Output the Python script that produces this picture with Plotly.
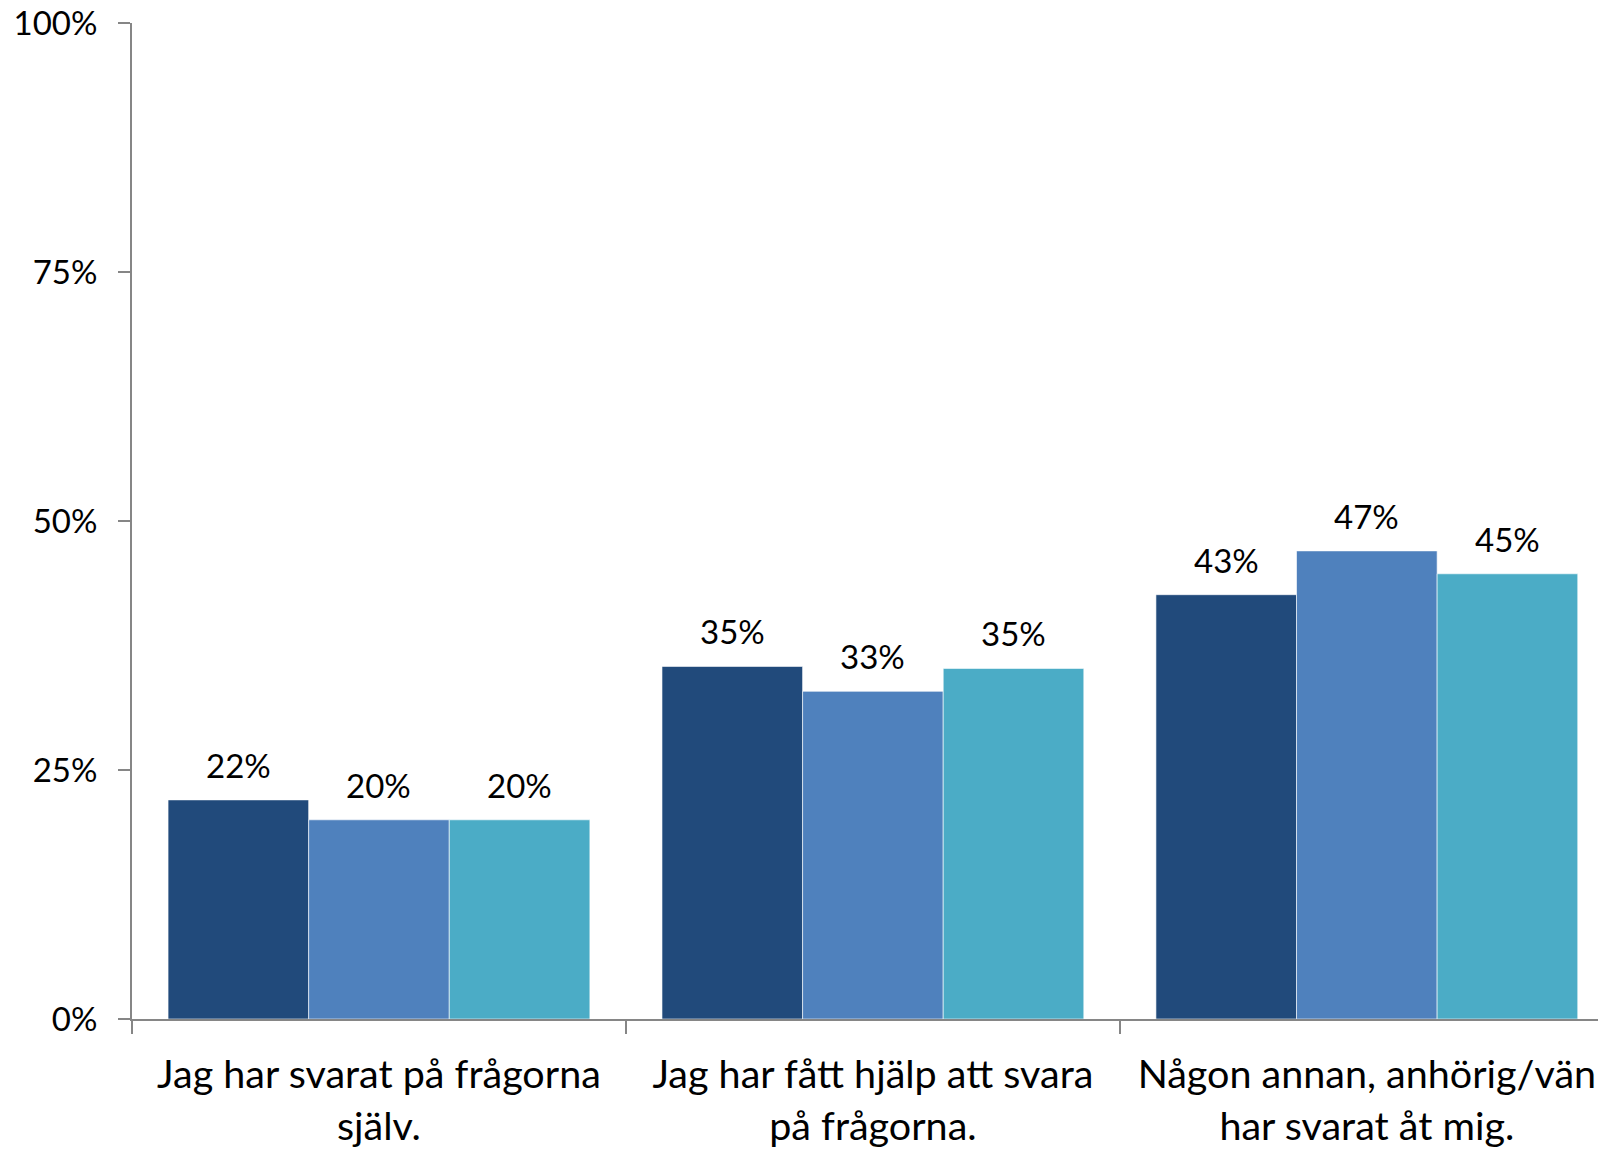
import plotly.graph_objects as go

categories = ["Jag har svarat på frågorna<br>själv.",
              "Jag har fått hjälp att svara<br>på frågorna.",
              "Någon annan, anhörig/vän<br>har svarat åt mig."]
series_names = ["Serie 1", "Serie 2", "Serie 3"]
series_values = [
    [22.0, 35.4, 42.6],
    [20.0, 32.9, 47.0],
    [20.0, 35.2, 44.7],
]
colors = ["#214A7B", "#4F81BD", "#4BACC6"]
ytick_vals = [0, 25, 50, 75, 100]
ytick_text = ["0%", "25%", "50%", "75%", "100%"]

FONT = "Lato"
bargap = 0.146
nser = len(series_values)
bw = (1 - bargap) / nser

fig = go.Figure()
for s, (name, vals, col) in enumerate(zip(series_names, series_values, colors)):
    fig.add_trace(go.Bar(
        name=name, x=categories, y=vals,
        marker=dict(color=col, line=dict(color="rgba(255,255,255,0.6)", width=1)),
        showlegend=False, hoverinfo="skip",
    ))
    for i, v in enumerate(vals):
        fig.add_annotation(
            x=i + (s - (nser - 1) / 2) * bw, y=v, xref="x", yref="y",
            text=f"{v:.0f}%", showarrow=False, yanchor="bottom",
            yshift=13, font=dict(family=FONT, size=33, color="#000000"),
        )

fig.update_layout(
    width=1598, height=1149,
    barmode="group", bargap=bargap, bargroupgap=0,
    paper_bgcolor="white", plot_bgcolor="white",
    margin=dict(l=132, r=0, t=23, b=130, autoexpand=False),
    font=dict(family=FONT, color="#000000"),
)
fig.update_xaxes(
    type="category", tickson="boundaries",
    range=[-0.5, 2.468],
    showline=True, linecolor="#868686", linewidth=2,
    ticks="outside", ticklen=13, tickcolor="#868686", tickwidth=2,
    tickfont=dict(family=FONT, size=39.5, color="#000000"),
    ticklabelstandoff=20, automargin=False, ticklabeloverflow="allow",
    showgrid=False, zeroline=False,
)
fig.update_yaxes(
    range=[0, 100], tickvals=ytick_vals, ticktext=ytick_text,
    showline=True, linecolor="#868686", linewidth=2,
    ticks="outside", ticklen=12, tickcolor="#868686", tickwidth=2,
    tickfont=dict(family=FONT, size=33, color="#000000"),
    ticklabelstandoff=14, automargin=False, ticklabeloverflow="allow",
    showgrid=False, zeroline=False,
)

fig.write_html(
    "out.html",
    config={"displayModeBar": False, "staticPlot": True},
    post_script="document.body.style.margin='0';document.body.style.overflow='hidden';",
)
